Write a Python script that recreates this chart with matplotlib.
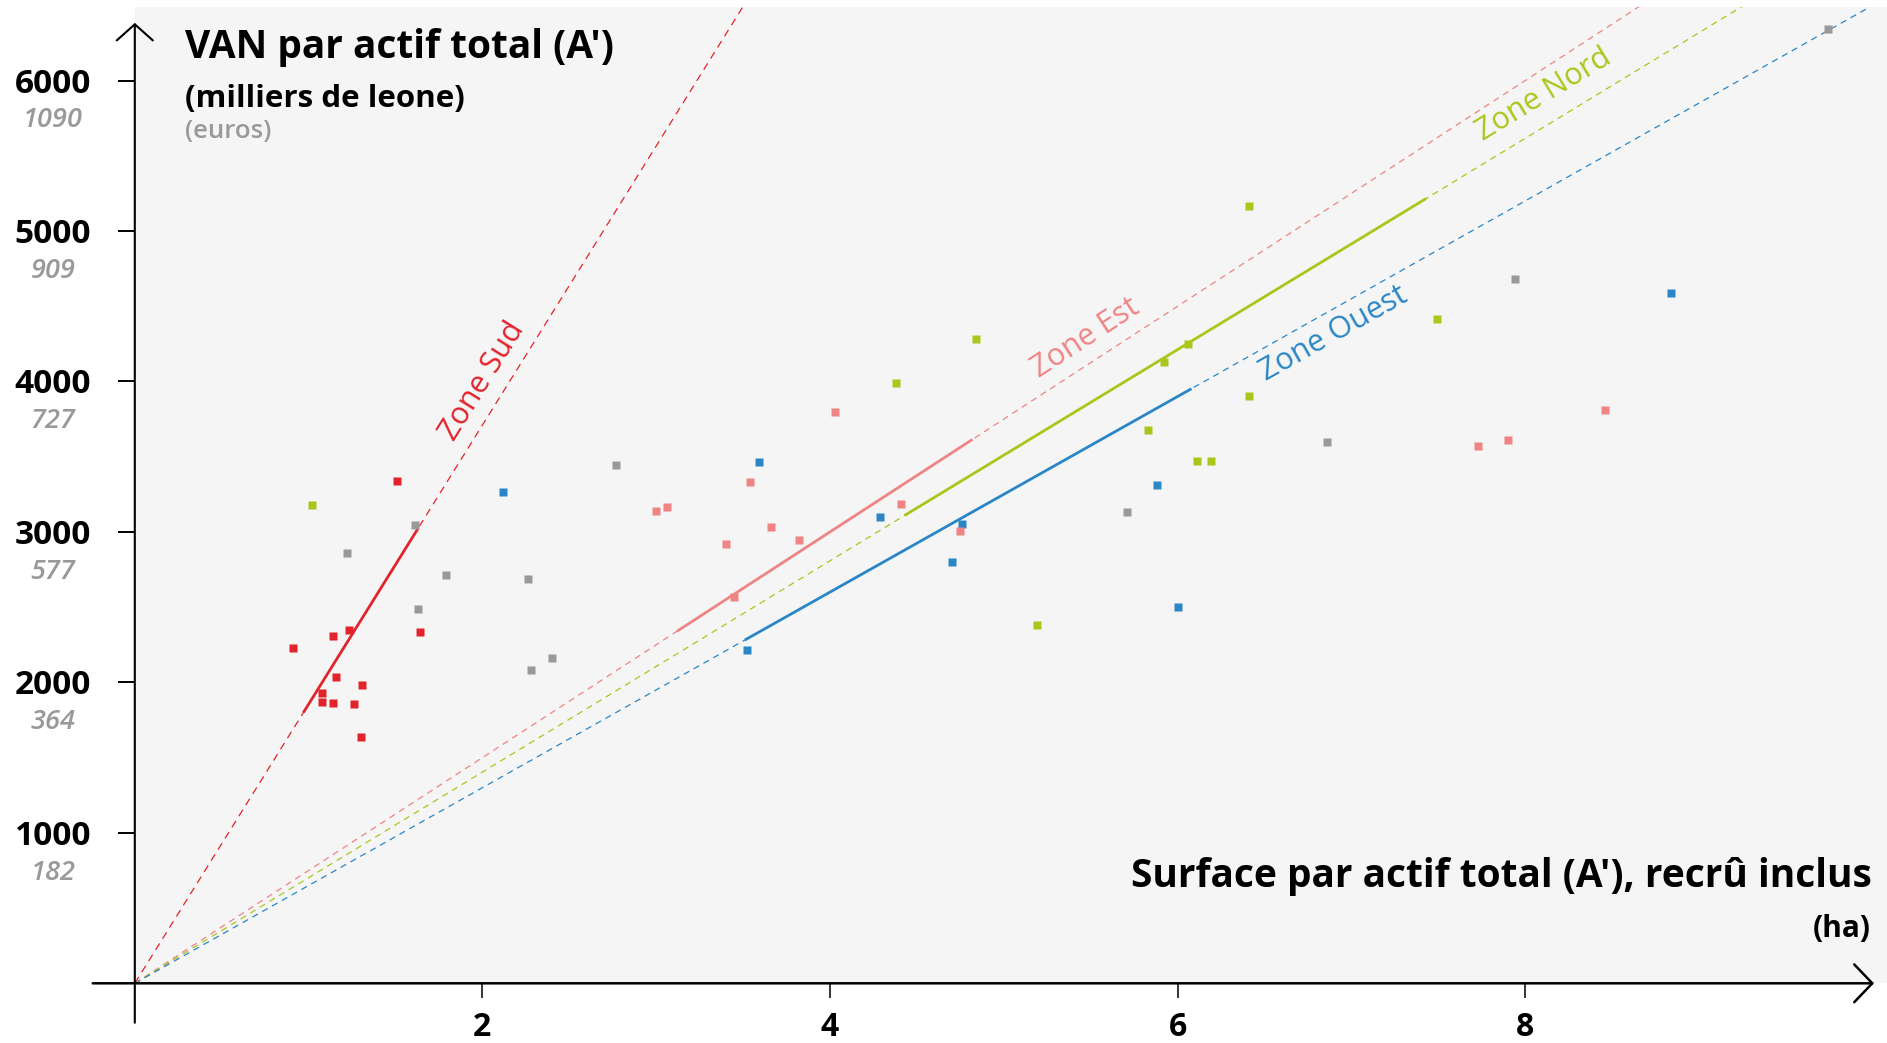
import numpy as np
import matplotlib
matplotlib.use('Agg')
import matplotlib.pyplot as plt

plt.rcParams['font.family'] = ['Open Sans', 'DejaVu Sans']

# data: surface per worker (ha) vs VAN per worker (thousand leone)
sud_x = [0.91, 1.14, 1.23, 1.16, 1.08, 1.08, 1.14, 1.26, 1.31, 1.30, 1.51, 1.64]
sud_y = [2231, 2310, 2348, 2036, 1928, 1872, 1861, 1856, 1981, 1639, 3341, 2333]

est_x = [3.00, 3.06, 3.40, 3.45, 3.54, 3.66, 3.82, 4.03, 4.41, 4.75, 7.73, 7.90, 8.46]
est_y = [3141, 3168, 2922, 2570, 3334, 3031, 2945, 3799, 3186, 3008, 3569, 3613, 3809]

nord_x = [1.02, 4.38, 4.84, 5.19, 5.83, 5.92, 6.06, 6.11, 6.19, 6.41, 6.41, 7.49]
nord_y = [3181, 3993, 4282, 2384, 3676, 4132, 4249, 3472, 3472, 5169, 3902, 4413]

ouest_x = [2.12, 3.52, 3.59, 4.29, 4.70, 4.76, 5.88, 6.00, 8.84]
ouest_y = [3268, 2213, 3465, 3097, 2800, 3055, 3314, 2499, 4590]

autres_x = [1.22, 1.61, 1.63, 1.79, 2.26, 2.28, 2.40, 2.77, 5.71, 6.86, 7.94, 9.74]
autres_y = [2860, 3046, 2488, 2714, 2689, 2080, 2164, 3443, 3135, 3596, 4679, 6344]

# regression lines through the origin, solid over the data range
zones = ['Zone Sud', 'Zone Est', 'Zone Nord', 'Zone Ouest']
fit_slopes = [1855, 750, 702, 650]
fit_x0 = [0.97, 3.12, 4.43, 3.51]
fit_x1 = [1.63, 4.82, 7.43, 6.08]

y_ticks = [1000, 2000, 3000, 4000, 5000, 6000]
y_euros = ['182', '364', '577', '727', '909', '1090']
x_ticks = [2, 4, 6, 8]
x_labels = ['2', '4', '6', '8']

RED = '#e3232b'
PINK = '#ef8484'
GREEN = '#a9c71b'
BLUE = '#2a86c6'
GRAY = '#999999'
zone_colors = [RED, PINK, GREEN, BLUE]

W, H = 1887, 1043
fig = plt.figure(figsize=(W / 100, H / 100), dpi=100)
ax = fig.add_axes([134.8 / W, 1 - 983.3 / H, (W - 134.8) / W, (983.3 - 7.3) / H])
ax.set_facecolor('#f5f5f5')
ax.set_xlim(0, 10.082)
ax.set_ylim(0, 6487)
for s in ax.spines.values():
    s.set_visible(False)

# dashed lines from origin
xx = np.array([0, 10.2])
for k, c in zip(fit_slopes, zone_colors):
    dash = (0, (6, 4.5)) if c == RED else (0, (5, 4))
    ax.plot(xx, k * xx, ls=dash, lw=0.9, color=c, zorder=2)

# solid segments
for k, a, b, c in zip(fit_slopes, fit_x0, fit_x1, zone_colors):
    seg = np.array([a, b])
    ax.plot(seg, k * seg, lw=2.0, color=c, solid_capstyle='butt', zorder=3)

ms = 5.6
ax.plot(autres_x, autres_y, 's', ms=ms, color=GRAY, mec='none', zorder=4)
ax.plot(ouest_x, ouest_y, 's', ms=ms, color=BLUE, mec='none', zorder=4)
ax.plot(nord_x, nord_y, 's', ms=ms, color=GREEN, mec='none', zorder=4)
ax.plot(est_x, est_y, 's', ms=ms, color=PINK, mec='none', zorder=4)
ax.plot(sud_x, sud_y, 's', ms=ms, color=RED, mec='none', zorder=4)

# zone labels along their lines
label_pos = [(2.00, 4000), (5.47, 4287), (8.11, 5904), (6.90, 4320)]
for name, k, c, (lx, ly) in zip(zones, fit_slopes, zone_colors, label_pos):
    p0 = ax.transData.transform((0, 0))
    p1 = ax.transData.transform((1, k))
    ang = np.degrees(np.arctan2(p1[1] - p0[1], p1[0] - p0[0]))
    ax.text(lx, ly, name, color=c, fontsize=22, rotation=ang,
            rotation_mode='anchor', ha='center', va='center', zorder=5)

# ticks
ax.set_xticks(x_ticks)
ax.set_xticklabels(x_labels, fontweight='bold', fontsize=23)
ax.set_yticks(y_ticks)
ax.tick_params(axis='y', length=12.2, width=1.4, direction='out', labelleft=False)
ax.tick_params(axis='x', length=10.8, width=1.1, direction='out', pad=9)

ytr = ax.get_yaxis_transform()
for v, e in zip(y_ticks, y_euros):
    ax.annotate(str(v), xy=(-0.0467, v), xycoords=ytr, xytext=(0, -8.6),
                textcoords='offset points', ha='center', va='baseline',
                fontsize=24, fontweight='bold', annotation_clip=False)
    ax.annotate(e, xy=(-0.0467, v), xycoords=ytr, xytext=(0, -33.6),
                textcoords='offset points', ha='center', va='baseline',
                fontsize=19.5, fontweight='semibold', fontstyle='italic',
                color=GRAY, annotation_clip=False)

# axis arrows
ax.annotate('', xy=(0.9926, 0), xytext=(-0.024, 0), xycoords='axes fraction',
            arrowprops=dict(arrowstyle='->,head_length=0.65,head_width=0.68',
                            lw=1.8, color='k', mutation_scale=20,
                            shrinkA=0, shrinkB=0),
            annotation_clip=False)
ax.annotate('', xy=(0, 0.984), xytext=(0, -0.0404), xycoords='axes fraction',
            arrowprops=dict(arrowstyle='->,head_length=0.58,head_width=0.65',
                            lw=1.5, color='k', mutation_scale=20,
                            shrinkA=0, shrinkB=0),
            annotation_clip=False)

# titles
fig.text(185 / W, 1 - 58.3 / H, "VAN par actif total (A')", fontsize=28,
         fontweight='bold', ha='left', va='baseline')
fig.text(185 / W, 1 - 106.7 / H, "(milliers de leone)", fontsize=22.5,
         fontweight='bold', ha='left', va='baseline')
fig.text(185 / W, 1 - 138.3 / H, "(euros)", fontsize=18.5,
         fontweight='semibold', color=GRAY, ha='left', va='baseline')
fig.text(1871.6 / W, 1 - 886.7 / H, "Surface par actif total (A'), recrû inclus",
         fontsize=28, fontweight='bold', ha='right', va='baseline')
fig.text(1870.5 / W, 1 - 936.7 / H, "(ha)", fontsize=21.5,
         fontweight='bold', ha='right', va='baseline')

fig.savefig('out.png', dpi=100)
